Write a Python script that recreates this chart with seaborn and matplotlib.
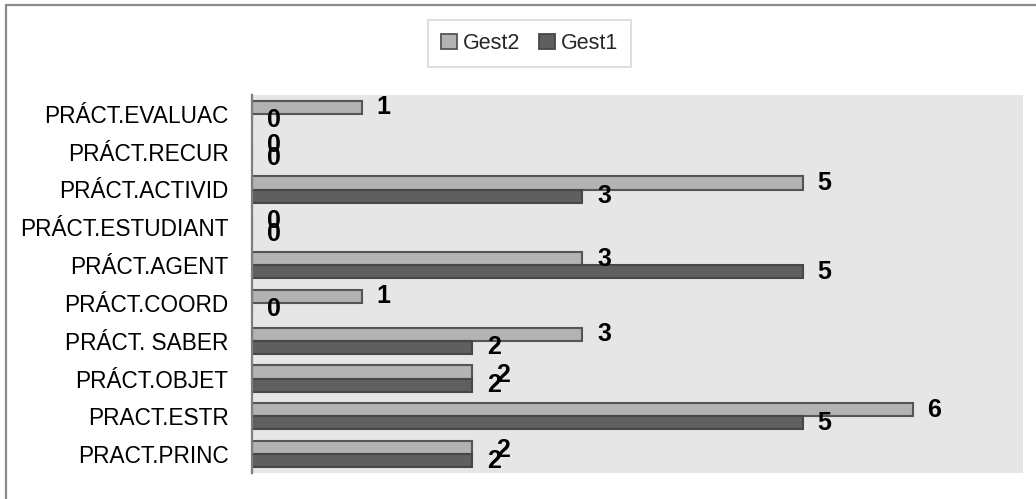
import matplotlib
matplotlib.use("Agg")
import matplotlib.pyplot as plt
from matplotlib.lines import Line2D
from matplotlib.patches import Patch
import seaborn as sns
import pandas as pd

categorias = [
    "PRÁCT.EVALUAC", "PRÁCT.RECUR", "PRÁCT.ACTIVID", "PRÁCT.ESTUDIANT",
    "PRÁCT.AGENT", "PRÁCT.COORD", "PRÁCT. SABER", "PRÁCT.OBJET",
    "PRACT.ESTR", "PRACT.PRINC",
]
gest2 = [1, 0, 5, 0, 3, 1, 3, 2, 6, 2]
gest1 = [0, 0, 3, 0, 5, 0, 2, 2, 5, 2]
series = ["Gest2", "Gest1"]

df = pd.DataFrame({
    "categoria": categorias * 2,
    "valor": gest2 + gest1,
    "serie": ["Gest2"] * len(categorias) + ["Gest1"] * len(categorias),
})

sns.set_style("white")
plt.rcParams["font.family"] = ["Liberation Sans", "DejaVu Sans"]

W, H = 1036, 499
fig = plt.figure(figsize=(W / 100, H / 100), dpi=100)
ax = fig.add_axes([252 / W, 1 - 473 / H, (1023 - 252) / W, (473 - 95) / H])

fills = {"Gest2": "#b3b3b3", "Gest1": "#5f5f5f"}
edges = {"Gest2": "#555555", "Gest1": "#474747"}

sns.barplot(
    data=df, y="categoria", x="valor", hue="serie", hue_order=series,
    order=categorias, orient="h", palette=fills, width=0.69,
    linewidth=1.5, saturation=1, ax=ax, errorbar=None, legend=False,
)

for cont, s, own, other in zip(ax.containers, series, [gest2, gest1], [gest1, gest2]):
    for p in cont:
        p.set_edgecolor(edges[s])
    texts = ax.bar_label(cont, fmt="%g", padding=10.5, fontsize=18,
                         fontweight="bold", color="black")
    # nudge the upper label of an equal non-zero pair to the right
    if s == "Gest2":
        for t, a, b in zip(texts, own, other):
            if a == b and a != 0:
                x0, y0 = t.xyann
                t.xyann = (x0 + 7, y0 - 2)

ax.set_xlim(0, 7)
ax.set_ylim(len(categorias) - 0.5, -0.5)
ax.set_facecolor("#e6e6e6")
ax.set_xlabel("")
ax.set_ylabel("")
ax.set_xticks([])
ax.tick_params(axis="y", length=0, pad=17, labelsize=16.3, labelcolor="black")
for side in ["top", "right", "bottom"]:
    ax.spines[side].set_visible(False)
ax.spines["left"].set_color("#7f7f7f")
ax.spines["left"].set_linewidth(1.6)

handles = [Patch(facecolor=fills[s], edgecolor=edges[s], linewidth=1.3) for s in series]
leg = fig.legend(
    handles, series, loc="center", bbox_to_anchor=(529.5 / W, 1 - 43.5 / H),
    ncol=2, frameon=True, fancybox=False, fontsize=15.5,
    handlelength=0.75, handleheight=0.75, handletextpad=0.25,
    columnspacing=0.9, borderpad=0.6,
)
leg.get_frame().set_edgecolor("#d0d0d0")
leg.get_frame().set_linewidth(1.2)

# outer chart border (top and left edges)
fig.add_artist(Line2D([6 / W, 1.0], [1 - 5 / H, 1 - 5 / H], transform=fig.transFigure,
                      color="#8a8a8a", linewidth=1.6))
fig.add_artist(Line2D([6 / W, 6 / W], [0.0, 1 - 5 / H], transform=fig.transFigure,
                      color="#8a8a8a", linewidth=1.6))

fig.savefig("out.png", dpi=100, facecolor="white")
